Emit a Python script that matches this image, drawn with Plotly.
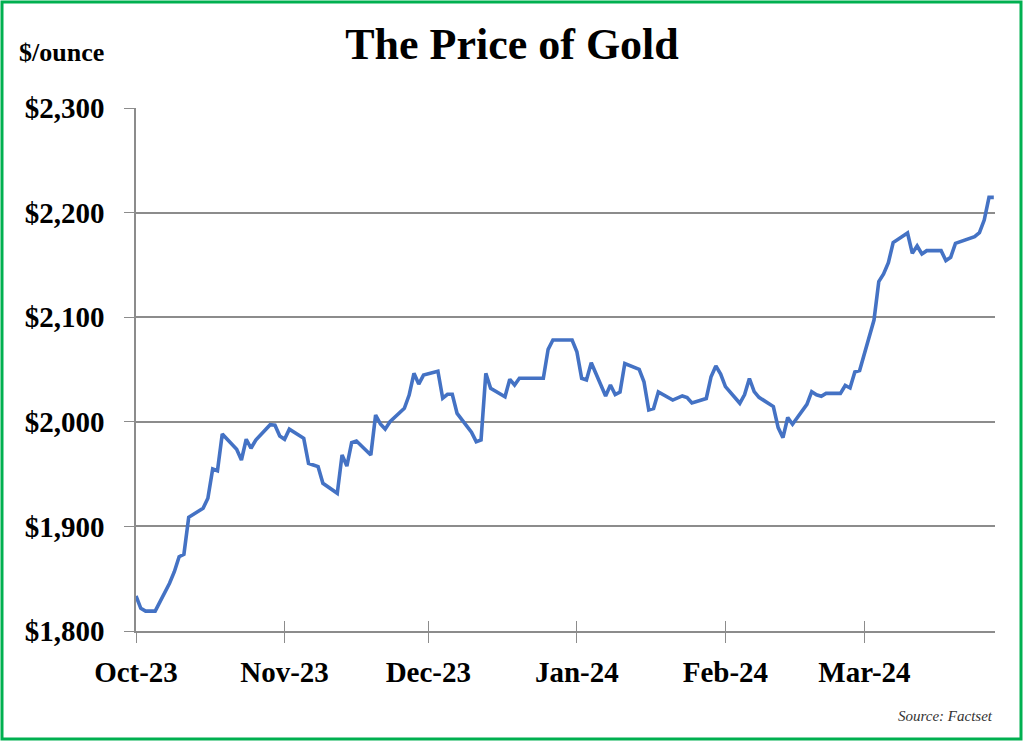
import plotly.graph_objects as go

dates = [
    "2023-10-02", "2023-10-03", "2023-10-04", "2023-10-05", "2023-10-06",
    "2023-10-09", "2023-10-10", "2023-10-11", "2023-10-12", "2023-10-13",
    "2023-10-16", "2023-10-17", "2023-10-18", "2023-10-19", "2023-10-20",
    "2023-10-23", "2023-10-24", "2023-10-25", "2023-10-26", "2023-10-27",
    "2023-10-30", "2023-10-31", "2023-11-01", "2023-11-02", "2023-11-03",
    "2023-11-06", "2023-11-07", "2023-11-08", "2023-11-09", "2023-11-10",
    "2023-11-13", "2023-11-14", "2023-11-15", "2023-11-16", "2023-11-17",
    "2023-11-20", "2023-11-21", "2023-11-22", "2023-11-23", "2023-11-24",
    "2023-11-27", "2023-11-28", "2023-11-29", "2023-11-30", "2023-12-01",
    "2023-12-04", "2023-12-05", "2023-12-06", "2023-12-07", "2023-12-08",
    "2023-12-11", "2023-12-12", "2023-12-13", "2023-12-14", "2023-12-15",
    "2023-12-18", "2023-12-19", "2023-12-20", "2023-12-21", "2023-12-22",
    "2023-12-26", "2023-12-27", "2023-12-28", "2023-12-29",
    "2024-01-01", "2024-01-02", "2024-01-03", "2024-01-04", "2024-01-05",
    "2024-01-08", "2024-01-09", "2024-01-10", "2024-01-11", "2024-01-12",
    "2024-01-15", "2024-01-16", "2024-01-17", "2024-01-18", "2024-01-19",
    "2024-01-22", "2024-01-23", "2024-01-24", "2024-01-25", "2024-01-26",
    "2024-01-29", "2024-01-30", "2024-01-31", "2024-02-01", "2024-02-02",
    "2024-02-05", "2024-02-06", "2024-02-07", "2024-02-08", "2024-02-09",
    "2024-02-12", "2024-02-13", "2024-02-14", "2024-02-15", "2024-02-16",
    "2024-02-19", "2024-02-20", "2024-02-21", "2024-02-22", "2024-02-23",
    "2024-02-26", "2024-02-27", "2024-02-28", "2024-02-29", "2024-03-01",
    "2024-03-04", "2024-03-05", "2024-03-06", "2024-03-07", "2024-03-08",
    "2024-03-11", "2024-03-12", "2024-03-13", "2024-03-14", "2024-03-15",
    "2024-03-18", "2024-03-19", "2024-03-20", "2024-03-21", "2024-03-22",
    "2024-03-25", "2024-03-26", "2024-03-27", "2024-03-28", "2024-03-29",
]

prices = [
    1833.5, 1821.7, 1819.0, 1819.0, 1819.0,
    1845.6, 1856.7, 1871.0, 1873.3, 1908.7,
    1917.3, 1926.9, 1954.9, 1953.2, 1988.3,
    1973.7, 1963.5, 1983.3, 1974.7, 1982.6,
    1997.2, 1996.7, 1986.4, 1983.3, 1993.0,
    1984.2, 1960.3, 1958.7, 1957.1, 1941.2,
    1931.6, 1968.3, 1957.7, 1980.0, 1981.6,
    1968.3, 2006.5, 1998.0, 1993.0, 2000.1,
    2012.9, 2025.6, 2046.4, 2036.1, 2044.7,
    2048.3, 2022.5, 2026.3, 2026.3, 2008.1,
    1990.0, 1981.0, 1982.6, 2046.4, 2032.0,
    2024.0, 2040.6, 2035.2, 2041.6, 2041.6,
    2041.6, 2069.3, 2078.2, 2078.2,
    2078.2, 2067.0, 2041.6, 2040.0, 2056.5,
    2024.7, 2035.2, 2026.0, 2028.5, 2055.7,
    2050.2, 2038.3, 2011.3, 2012.7, 2028.5,
    2020.8, 2023.0, 2024.7, 2023.2, 2018.0,
    2022.3, 2043.1, 2053.3, 2045.7, 2033.7,
    2017.7, 2026.0, 2041.4, 2028.8, 2023.4,
    2014.6, 1994.5, 1984.8, 2004.1, 1997.7,
    2016.7, 2028.8, 2025.8, 2024.4, 2027.2,
    2027.2, 2034.7, 2032.3, 2047.6, 2049.0,
    2097.3, 2134.1, 2141.3, 2152.1, 2171.4,
    2180.5, 2161.1, 2168.1, 2160.4, 2163.6,
    2163.6, 2154.2, 2157.3, 2170.6, 2172.0,
    2177.0, 2180.8, 2192.9, 2214.6, 2214.6,
]

x_tick_vals = ["2023-10-02", "2023-11-02", "2023-12-02",
               "2024-01-02", "2024-02-02", "2024-03-02"]
x_tick_text = ["Oct-23", "Nov-23", "Dec-23", "Jan-24", "Feb-24", "Mar-24"]
y_tick_vals = [1800, 1900, 2000, 2100, 2200, 2300]
y_tick_text = ["$1,800", "$1,900", "$2,000", "$2,100", "$2,200", "$2,300"]

x_range = ["2023-10-02", "2024-03-29 06:00"]
y_range = [1800, 2300]

FONT = "Liberation Serif, Times New Roman, serif"
GRID = "#8c8c8c"

fig = go.Figure()
fig.add_trace(go.Scatter(
    x=dates, y=prices, mode="lines",
    line=dict(color="#4472C4", width=3.6),
    showlegend=False, hoverinfo="x+y",
))
# invisible helper trace so the overlay axis (inner half of crossing ticks) renders
fig.add_trace(go.Scatter(
    x=dates, y=prices, mode="lines", xaxis="x2",
    line=dict(color="rgba(0,0,0,0)", width=0),
    showlegend=False, hoverinfo="skip",
))

fig.update_layout(
    width=1024, height=742,
    margin=dict(l=136, r=29, t=108, b=111),
    paper_bgcolor="white", plot_bgcolor="white",
    font=dict(family=FONT, color="black"),
    title=dict(
        text="<b>The Price of Gold</b>",
        x=0.5, xref="container", xanchor="center",
        y=1 - 44 / 742, yref="container", yanchor="middle",
        font=dict(family=FONT, size=44, color="black"),
    ),
    xaxis=dict(
        type="date", range=x_range,
        tickmode="array", tickvals=x_tick_vals,
        ticktext=["<b>%s</b>" % t for t in x_tick_text],
        ticks="outside", ticklen=10, tickwidth=1.3, tickcolor=GRID,
        showline=True, linecolor=GRID, linewidth=1.5,
        showgrid=False, zeroline=False,
        tickfont=dict(family=FONT, size=29, color="black"),
        ticklabelstandoff=4,
    ),
    xaxis2=dict(
        type="date", range=x_range, overlaying="x", anchor="y",
        tickmode="array", tickvals=x_tick_vals,
        ticks="inside", ticklen=10, tickwidth=1.3, tickcolor=GRID,
        showticklabels=False, showline=False, showgrid=False, zeroline=False,
    ),
    yaxis=dict(
        range=y_range,
        tickmode="array", tickvals=y_tick_vals,
        ticktext=["<b>%s</b>" % t for t in y_tick_text],
        ticks="outside", ticklen=10, tickwidth=1.3, tickcolor=GRID,
        showline=True, linecolor=GRID, linewidth=1.5,
        showgrid=True, gridcolor=GRID, gridwidth=1.5, zeroline=False,
        tickfont=dict(family=FONT, size=29, color="black"),
        ticklabelstandoff=14,
    ),
    annotations=[
        dict(text="<b>$/ounce</b>", xref="paper", yref="paper",
             x=(17 - 136) / 859, y=(631 - 52) / 523,
             xanchor="left", yanchor="middle", showarrow=False,
             font=dict(family=FONT, size=26, color="black")),
        dict(text="<i>Source: Factset</i>", xref="paper", yref="paper",
             x=1.0, y=(631 - 716) / 523,
             xanchor="right", yanchor="middle", showarrow=False,
             font=dict(family=FONT, size=15, color="#333333")),
    ],
    shapes=[
        dict(type="rect", xref="paper", yref="paper",
             x0=(2 - 136) / 859, x1=(1021 - 136) / 859,
             y0=(631 - 739) / 523, y1=(631 - 2) / 523,
             line=dict(color="#00B050", width=3), fillcolor="rgba(0,0,0,0)",
             layer="above"),
    ],
)

fig.write_html("out.html")
